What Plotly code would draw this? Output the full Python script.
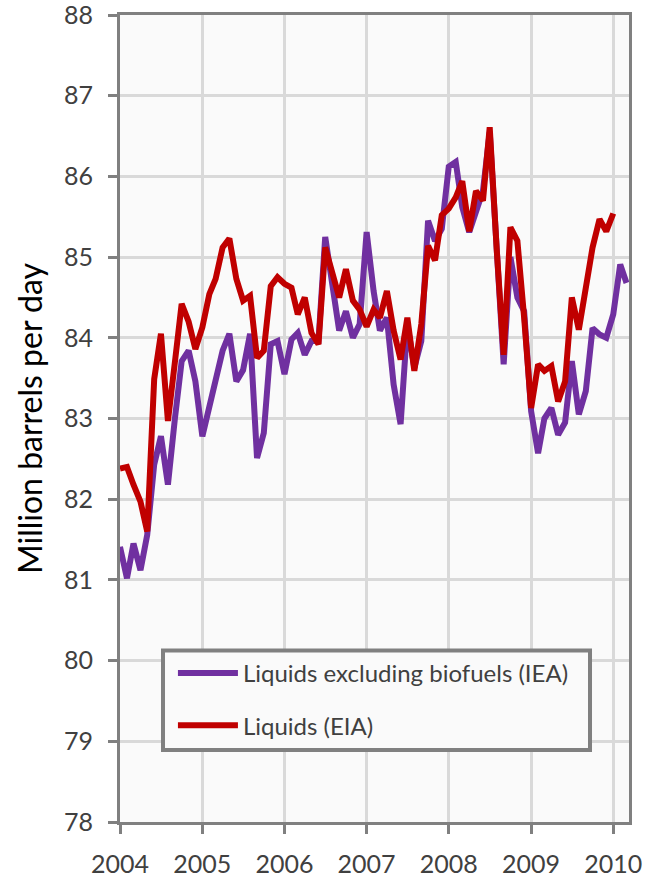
import pandas as pd
import plotly.graph_objects as go

# Monthly values, Jan 2004 onward (million barrels per day)
iea_liquids_ex_biofuels = [
    81.41, 81.02, 81.45, 81.12, 81.56, 82.43, 82.78, 82.18, 83.00, 83.71, 83.84, 83.46,  # 2004
    82.78, 83.13, 83.46, 83.84, 84.05, 83.46, 83.60, 84.05, 82.51, 82.82, 83.92, 83.96,  # 2005
    83.55, 83.98, 84.06, 83.79, 83.96, 83.96, 85.25, 84.71, 84.09, 84.33, 84.00, 84.17,  # 2006
    85.31, 84.58, 84.09, 84.25, 83.42, 82.93, 84.17, 83.63, 83.96, 85.45, 85.20, 85.35,  # 2007
    86.12, 86.18, 85.62, 85.31, 85.57, 85.82, 86.55, 85.10, 83.67, 85.00, 84.50, 84.33,  # 2008
    83.09, 82.57, 83.00, 83.13, 82.80, 82.95, 83.71, 83.05, 83.34, 84.12, 84.04, 84.00,  # 2009
    84.29, 84.91, 84.68,                                                                 # 2010
]
eia_liquids = [
    82.38, 82.40, 82.18, 81.97, 81.60, 83.49, 84.05, 82.97, 83.70, 84.42, 84.20, 83.86,  # 2004
    84.13, 84.54, 84.73, 85.12, 85.23, 84.73, 84.46, 84.52, 83.75, 83.84, 84.64, 84.75,  # 2005
    84.67, 84.62, 84.29, 84.50, 84.06, 83.92, 85.12, 84.80, 84.50, 84.85, 84.46, 84.35,  # 2006
    84.14, 84.35, 84.25, 84.58, 84.09, 83.73, 84.25, 83.59, 84.17, 85.14, 84.96, 85.52,  # 2007
    85.60, 85.74, 85.94, 85.32, 85.82, 85.70, 86.61, 85.10, 83.79, 85.37, 85.20, 84.25,  # 2008
    83.13, 83.67, 83.59, 83.65, 83.21, 83.46, 84.50, 84.10, 84.62, 85.12, 85.47, 85.32,  # 2009
    85.54,                                                                               # 2010
]
series_names = ["Liquids excluding biofuels (IEA)", "Liquids (EIA)"]
start_month = "2004-01-01"
y_title = "Million barrels per day"

dates_iea = pd.date_range(start_month, periods=len(iea_liquids_ex_biofuels), freq="MS")
dates_eia = pd.date_range(start_month, periods=len(eia_liquids), freq="MS")

FONT = "Lato"
TXT = "#404040"
AX = "#808080"
GRID = "#d9d9d9"

fig = go.Figure()
fig.add_trace(go.Scatter(x=dates_iea, y=iea_liquids_ex_biofuels, mode="lines",
                         name=series_names[0], legendgroup="a",
                         line=dict(color="#7030A0", width=6)))
fig.add_trace(go.Scatter(x=dates_eia, y=eia_liquids, mode="lines",
                         name=series_names[1], legendgroup="b",
                         line=dict(color="#C00000", width=6)))

fig.update_layout(
    width=646, height=880,
    margin=dict(l=120, r=17, t=15, b=58),
    paper_bgcolor="white", plot_bgcolor="#fafafa",
    font=dict(family=FONT, color=TXT),
    showlegend=True,
    legend=dict(x=0.104, y=0.212, xanchor="left", yanchor="top",
                bgcolor="rgba(0,0,0,0)", borderwidth=0,
                font=dict(size=24, color=TXT, family=FONT),
                tracegroupgap=18, itemwidth=60),
    shapes=[dict(type="rect", xref="paper", yref="paper",
                 x0=0.0845, x1=0.9234, y0=0.0892, y1=0.2125,
                 fillcolor="#fafafa", line=dict(color=AX, width=4), layer="above")],
)
fig.update_xaxes(
    type="date", range=["2004-01-01", "2010-03-12"],
    dtick="M12", tick0="2004-01-01", tickformat="%Y",
    showgrid=True, gridcolor=GRID, gridwidth=2.5,
    showline=True, linecolor=AX, linewidth=3, mirror=True,
    ticks="outside", ticklen=9, tickwidth=2.5, tickcolor=AX,
    tickfont=dict(size=25, color=TXT, family=FONT), ticklabelstandoff=9,
    ticklabeloverflow="allow",
    zeroline=False, automargin=False,
)
fig.update_yaxes(
    range=[78, 88], dtick=1, tick0=78,
    showgrid=True, gridcolor=GRID, gridwidth=2.5,
    showline=True, linecolor=AX, linewidth=3, mirror=True,
    ticks="outside", ticklen=9, tickwidth=2.5, tickcolor=AX,
    tickfont=dict(size=25, color=TXT, family=FONT), ticklabelstandoff=10,
    ticklabeloverflow="allow",
    title=dict(text=y_title, font=dict(size=32, color="#000000", family=FONT), standoff=12),
    zeroline=False, automargin=False,
)
fig.write_html("out.html", config={"displayModeBar": False},
               post_script="document.body.style.margin='0';")
